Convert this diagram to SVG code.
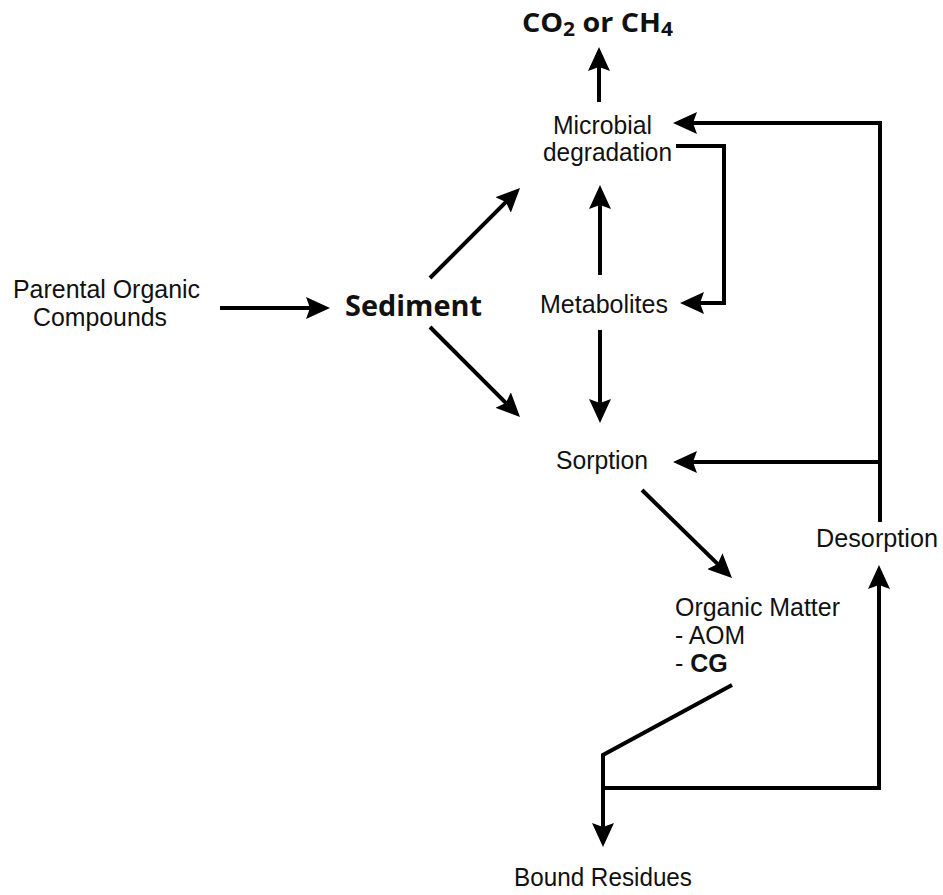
<svg xmlns="http://www.w3.org/2000/svg" width="943" height="895" viewBox="0 0 943 895">
<defs>
<style>
.t{font-family:"Liberation Sans",Arial,sans-serif;font-size:25px;fill:#111;}
.b{font-family:"Open Sans","Noto Sans",sans-serif;font-weight:bold;fill:#111;}
.c{fill:none;stroke:#000;stroke-width:4;stroke-linejoin:miter;}
</style>
<marker id="ah" viewBox="0 0 24 22" refX="6" refY="11" markerWidth="24" markerHeight="22" orient="auto" markerUnits="userSpaceOnUse">
<path d="M0,0 L24,11 L0,22 L4,11 Z" fill="#000"/>
</marker>
</defs>
<rect width="943" height="895" fill="#fff"/>
<g id="connectors">
<path class="c" d="M599,102 L599,65" marker-end="url(#ah)"/>
<path class="c" d="M880,522 L880,123 L691,123" marker-end="url(#ah)"/>
<path class="c" d="M676,146 L724,146 L724,303 L698,303" marker-end="url(#ah)"/>
<path class="c" d="M600,275 L600,203" marker-end="url(#ah)"/>
<path class="c" d="M600,330 L600,405" marker-end="url(#ah)"/>
<path class="c" d="M220,308 L312,308" marker-end="url(#ah)"/>
<path class="c" d="M430,278 L507.3,200.7" marker-end="url(#ah)"/>
<path class="c" d="M430,327 L507.3,404.3" marker-end="url(#ah)"/>
<path class="c" d="M880,462 L691,462" marker-end="url(#ah)"/>
<path class="c" d="M642,490 L719.1,565.4" marker-end="url(#ah)"/>
<path class="c" d="M732,685 L603,755 L603,829" marker-end="url(#ah)"/>
<path class="c" d="M603,788 L879,788 L879,583" marker-end="url(#ah)"/>
</g>
<g id="gas"><text class="b" x="522" y="32" font-size="26" textLength="151" lengthAdjust="spacingAndGlyphs">CO<tspan font-size="19" dy="4">2</tspan><tspan dy="-4"> or CH</tspan><tspan font-size="19" dy="4">4</tspan></text></g>
<g id="microbial"><text class="t" x="553" y="134" textLength="99" lengthAdjust="spacingAndGlyphs">Microbial</text><text class="t" x="543" y="161" textLength="129" lengthAdjust="spacingAndGlyphs">degradation</text></g>
<g id="parental"><text class="t" x="13" y="298" textLength="187" lengthAdjust="spacingAndGlyphs">Parental Organic</text><text class="t" x="33" y="326" textLength="134" lengthAdjust="spacingAndGlyphs">Compounds</text></g>
<g id="sediment"><text class="b" x="345" y="316" font-size="29" textLength="137" lengthAdjust="spacingAndGlyphs">Sediment</text></g>
<g id="metabolites"><text class="t" x="540" y="313" textLength="128" lengthAdjust="spacingAndGlyphs">Metabolites</text></g>
<g id="sorption"><text class="t" x="556" y="469" textLength="92" lengthAdjust="spacingAndGlyphs">Sorption</text></g>
<g id="desorption"><text class="t" x="816" y="547" textLength="122" lengthAdjust="spacingAndGlyphs">Desorption</text></g>
<g id="organic-matter"><text class="t" x="675" y="616" textLength="165" lengthAdjust="spacingAndGlyphs">Organic Matter</text><text class="t" x="675" y="644" textLength="70" lengthAdjust="spacingAndGlyphs">- AOM</text><text class="t" x="675" y="672"><tspan>- </tspan><tspan font-weight="bold">CG</tspan></text></g>
<g id="bound"><text class="t" x="514" y="886" textLength="178" lengthAdjust="spacingAndGlyphs">Bound Residues</text></g>
</svg>
